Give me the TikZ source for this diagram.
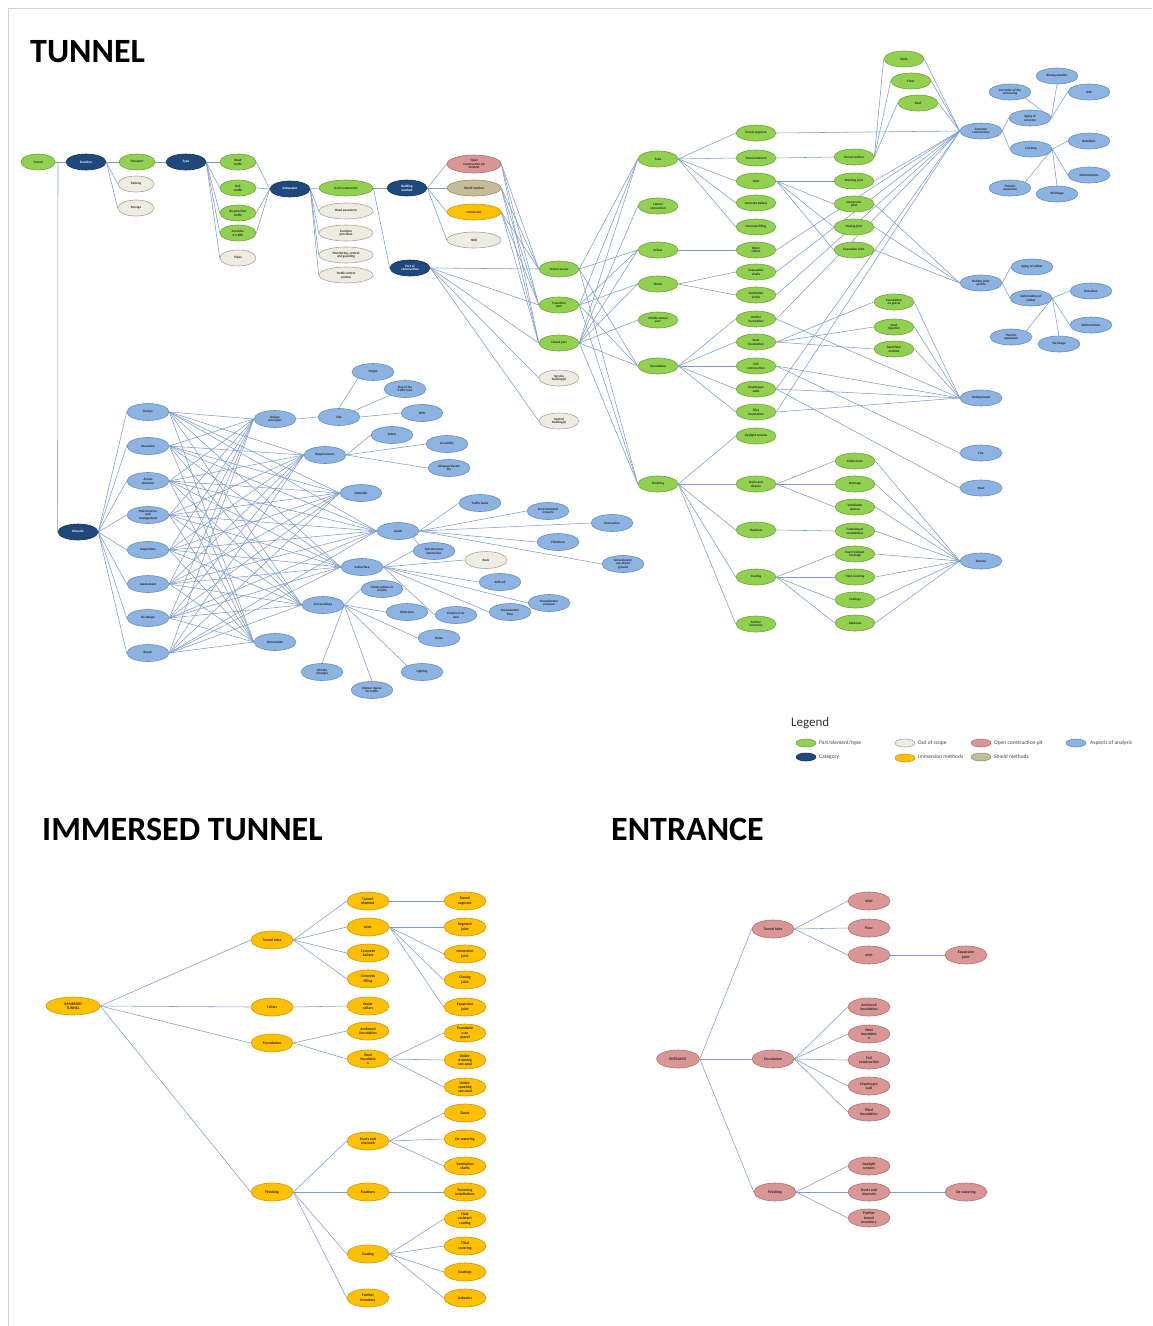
\documentclass[tikz,border=0pt]{standalone}
\usepackage{fontspec}
\setmainfont{Carlito}
\usetikzlibrary{shapes.geometric,backgrounds}
\definecolor{cgreen}{RGB}{146,208,80}
\definecolor{cgreenD}{RGB}{110,160,60}
\definecolor{cnavy}{RGB}{31,73,125}
\definecolor{cnavyD}{RGB}{20,50,95}
\definecolor{cgray}{RGB}{238,236,225}
\definecolor{cgrayD}{RGB}{165,165,155}
\definecolor{cpink}{RGB}{217,150,148}
\definecolor{cpinkD}{RGB}{175,112,110}
\definecolor{ckhaki}{RGB}{196,189,151}
\definecolor{ckhakiD}{RGB}{150,143,110}
\definecolor{corange}{RGB}{255,192,0}
\definecolor{corangeD}{RGB}{205,150,0}
\definecolor{cblue}{RGB}{141,179,226}
\definecolor{cblueD}{RGB}{100,140,195}
\definecolor{cedge}{RGB}{125,155,203}
\tikzset{
 nd/.style={ellipse, draw, line width=0.6pt, minimum width=40pt, minimum height=16pt, inner sep=0pt, align=center, font=\fontsize{3.3}{3.7}\selectfont\bfseries, text=black!85},
 gr/.style={nd, fill=cgreen, draw=cgreenD},
 nv/.style={nd, fill=cnavy, draw=cnavyD, text=white},
 os/.style={nd, fill=cgray, draw=cgrayD},
 pk/.style={nd, fill=cpink, draw=cpinkD},
 kh/.style={nd, fill=ckhaki, draw=ckhakiD},
 og/.style={nd, fill=corange, draw=corangeD},
 bl/.style={nd, fill=cblue, draw=cblueD},
 wide/.style={minimum width=54pt},
 big/.style={minimum width=42pt, minimum height=18pt, font=\fontsize{3.8}{4.2}\selectfont\bfseries},
 lgd/.style={minimum width=20pt, minimum height=8pt},
 lgt/.style={anchor=west, inner sep=0pt, font=\fontsize{5.5}{6}\selectfont, text=black!75},
 title/.style={anchor=base west, inner sep=0pt, font=\fontsize{34}{38}\selectfont\bfseries},
 edge/.style={draw=cedge, line width=0.55pt},
}
\begin{document}
\begin{tikzpicture}[x=1pt,y=-1pt]
\useasboundingbox (0,0) rectangle (1152,1326);
% titles
\node[title] (t1) at (30,62) {TUNNEL};
\node[title] (t2) at (42,840) {IMMERSED TUNNEL};
\node[title] (t3) at (611,840) {ENTRANCE};

% ---------- top chain
\node[gr, minimum width=34pt] (tun) at (38,162) {Tunnel};
\node[nv] (fun) at (86,162) {Function};
\node[gr, minimum width=36pt] (trn) at (137,162) {Transport};
\node[os, minimum width=36pt] (park) at (136,184) {Parking};
\node[os, minimum width=36pt] (stor) at (136,208) {Storage};
\node[nv] (typ) at (186,162) {Type};
\node[gr, minimum width=36pt] (road) at (238,162) {Road\\traffic};
\node[gr, minimum width=36pt] (rail) at (238,188) {Rail\\traffic};
\node[gr, minimum width=36pt] (bike) at (238,213) {Bicycle/foot\\traffic};
\node[gr, minimum width=36pt] (comb) at (238,233) {Combine\\d traffic};
\node[os, minimum width=36pt] (pipe) at (238,258) {Pipes};
\node[nv] (subs) at (290,189) {Subsystem};
\node[gr, wide] (civ) at (346,188) {Civil Construction};
\node[os, wide] (rpav) at (346,211) {Road pavement};
\node[os, wide] (fprov) at (346,233) {Function\\providers};
\node[os, wide] (mon) at (346,255) {Monitoring, control\\and guarding};
\node[os, wide] (tcc) at (346,275) {Traffic control\\centres};
\node[nv] (bm) at (407,188) {Building\\method};
\node[pk, wide, minimum height=18pt] (open) at (474,164) {Open\\construction pit\\method};
\node[kh, wide] (shld) at (474,188) {Shield method};
\node[og, wide] (imm) at (474,212) {Immersion};
\node[os, wide] (hdd) at (474,240) {HDD};
\node[nv] (poc) at (410,268) {Part of\\construction};
\node[gr] (acc) at (559,269) {Tunnel access};
\node[gr] (tra) at (559,305) {Transition\\part};
\node[gr] (clo) at (559,343) {Closed part};
\node[os] (serv) at (559,378) {Service\\building(s)};
\node[os] (ctrl) at (559,421) {Control\\building(s)};
% level
\node[gr] (tube) at (658,159) {Tube};
\node[gr] (lat) at (658,206) {Lateral\\connection};
\node[gr] (cel) at (658,250) {Cellars};
\node[gr] (sha) at (658,284) {Shafts};
\node[gr] (mid) at (658,320) {Middle tunnel\\part};
\node[gr] (fnd) at (658,366) {Foundation};
\node[gr] (fin) at (658,484) {Finishing};
% column 756
\node[gr] (tseg) at (756,133) {Tunnel segment};
\node[gr] (tel) at (756,158) {Tunnel element};
\node[gr] (jnt) at (756,181) {Joint};
\node[gr] (cbal) at (756,203) {Concrete ballast};
\node[gr] (cfil) at (756,227) {Concrete filling};
\node[gr] (wcel) at (756,250) {Water\\cellars};
\node[gr] (evac) at (756,272) {Evacuation\\shafts};
\node[gr] (vent) at (756,295) {Ventilation\\shafts};
\node[gr] (anch) at (756,319) {Anchor\\foundation};
\node[gr] (stf) at (756,342) {Steel\\foundation};
\node[gr] (foil) at (756,366) {Foil\\construction};
\node[gr] (diap) at (756,389) {Diaphragm\\walls};
\node[gr] (pile) at (756,412) {Piles\\foundation};
\node[gr] (dayl) at (756,436) {Daylight screens};
\node[gr] (duct) at (756,484) {Ducts and\\sleeves};
\node[gr] (fix) at (756,530) {Fixations};
\node[gr] (coat) at (756,577) {Coating};
\node[gr] (furt) at (756,624) {Further\\inventory};
% column 854
\node[gr] (tsec) at (854,157) {Tunnel section};
\node[gr] (wj) at (854,181) {Working joint};
\node[gr] (ij) at (854,204) {Immersion\\joint};
\node[gr] (cj) at (854,227) {Closing joint};
\node[gr] (ej) at (854,250) {Expansion joint};
\node[gr] (cab) at (855,461) {Cable ducts};
\node[gr] (drn) at (855,484) {Drainage};
\node[gr] (vsl) at (855,507) {Ventilation\\sleeves};
\node[gr] (fast) at (855,531) {Fastening of\\installations};
\node[gr] (heat) at (855,554) {Heat resistant\\coverage};
\node[gr] (tile) at (855,577) {Tiled covering};
\node[gr] (coats) at (855,600) {Coatings};
\node[gr] (asb) at (855,623) {Asbestos};
\node[gr] (walls) at (904,59) {Walls};
\node[gr] (floor) at (911,81) {Floor};
\node[gr] (roof) at (918,103) {Roof};
\node[gr] (grav) at (894,302) {Foundation\\on gravel};
\node[gr] (sinj) at (894,327) {Sand\\injection};
\node[gr] (sflow) at (894,349) {Sand-flow\\method};
% blue right
\node[bl, minimum width=42pt] (cc) at (981,131) {Concrete\\construction};
\node[bl, minimum width=42pt] (corr) at (1010,92) {Corrosion of the\\armouring};
\node[bl, minimum width=42pt] (bio) at (1057,76) {Biodegradation};
\node[bl, minimum width=42pt] (asr) at (1089,92) {ASR};
\node[bl, minimum width=42pt] (agc) at (1030,118) {Aging of\\concrete};
\node[bl, minimum width=42pt] (crk) at (1031,149) {Cracking};
\node[bl, minimum width=42pt] (rot1) at (1089,141) {Rotations};
\node[bl, minimum width=42pt] (def1) at (1089,175) {Deformations};
\node[bl, minimum width=42pt] (the1) at (1010,188) {Thermic\\expansion};
\node[bl, minimum width=42pt] (shr1) at (1057,194) {Shrinkage};
\node[bl, minimum width=42pt] (rjp) at (981,283) {Rubber joint\\profile};
\node[bl, minimum width=42pt] (agr) at (1032,267) {Aging of rubber};
\node[bl, minimum width=42pt] (dfr) at (1031,298) {Deformation of\\rubber};
\node[bl, minimum width=42pt] (rot2) at (1091,291) {Rotations};
\node[bl, minimum width=42pt] (def2) at (1091,325) {Deformations};
\node[bl, minimum width=42pt] (the2) at (1011,337) {Thermic\\expansion};
\node[bl, minimum width=42pt] (shr2) at (1059,344) {Shrinkage};
\node[bl, minimum width=42pt] (ug) at (981,398) {Underground};
\node[bl, minimum width=42pt] (fire) at (981,453) {Fire};
\node[bl, minimum width=42pt] (steel) at (981,488) {Steel};
\node[bl, minimum width=42pt] (div) at (981,561) {Diverse};

% ---------- lifecycle
\node[nv] (lc) at (78,532) {Lifecycle};
\begin{scope}[every node/.style={bl, minimum width=42pt, minimum height=17pt}]
\node (ph1) at (148,412) {Design};
\node (ph2) at (148,446) {Execution};
\node (ph3) at (148,481) {Actual\\situation};
\node (ph4) at (148,515) {Maintenance\\and\\management};
\node (ph5) at (148,550) {Inspections};
\node (ph6) at (148,584) {Assessment};
\node (ph7) at (148,618) {Re-design};
\node (ph8) at (148,653) {Repair};
\node (dp) at (275,419) {Design\\principles};
\node (info) at (275,642) {Information};
\node (size) at (339,417) {Size};
\node (req) at (325,455) {Requirements};
\node (mat) at (361,493) {Materials};
\node (loads) at (398,531) {Loads};
\node (subsf) at (362,567) {Subsurface};
\node (surr) at (323,605) {Surroundings};
\node (height) at (373,372) {Height};
\node (sotr) at (405,389) {Size of the\\traffic type};
\node (npr) at (422,413) {NPR};
\node (safety) at (392,435) {Safety};
\node (live) at (447,444) {Liveability};
\node (lifesp) at (449,468) {Lifespan/durabi\\lity};
\node (trl) at (480,503) {Traffic loads};
\node (env) at (548,511) {Environmental\\impacts};
\node (det) at (612,523) {Detonation};
\node (vib) at (558,542) {Vibrations};
\node (gwa) at (623,564) {Groundwater\\use above\\ground};
\node (ssi) at (434,551) {Soil-structure\\interaction};
\node[os, minimum width=42pt, minimum height=17pt] (rock) at (486,560) {Rock};
\node (soft) at (500,582) {Soft soil};
\node (gwp) at (549,603) {Groundwater\\pressure};
\node (gwf) at (510,612) {Groundwater\\flow};
\node (ero) at (456,615) {Erosion river\\bed};
\node (civn) at (382,589) {Constructions in\\vicinity};
\node (hind) at (407,612) {Hindrance};
\node (noise) at (439,638) {Noise};
\node (clim) at (322,672) {Climate\\(change)};
\node (detour) at (372,690) {Detour routes\\for traffic};
\node (light) at (422,672) {Lighting};
\end{scope}

% ---------- legend
\node[anchor=west, inner sep=0pt, font=\fontsize{13}{14}\selectfont, text=black!80] (lgh) at (791,723) {Legend};
\node[gr, lgd] (l1) at (806,743) {}; \node[lgt] (l1t) at (819,743) {Part/element/type};
\node[nv, lgd] (l2) at (806,757) {}; \node[lgt] (l2t) at (819,757) {Category};
\node[os, lgd] (l3) at (905,743) {}; \node[lgt] (l3t) at (918,743) {Out of scope};
\node[og, lgd] (l4) at (905,758) {}; \node[lgt] (l4t) at (918,757) {Immersion methods};
\node[pk, lgd] (l5) at (981,743) {}; \node[lgt] (l5t) at (994,743) {Open construction pit};
\node[kh, lgd] (l6) at (981,757) {}; \node[lgt] (l6t) at (994,757) {Shield methods};
\node[bl, lgd] (l7) at (1076,743) {}; \node[lgt] (l7t) at (1090,743) {Aspects of analysis};

% ---------- immersed tunnel
\begin{scope}[every node/.style={og, big}]
\node[minimum width=54pt] (it) at (73,1006) {IMMERSED\\TUNNEL};
\node (itt) at (272,940) {Tunnel tube};
\node (icel) at (272,1007) {Cellars};
\node (ifnd) at (272,1043) {Foundation};
\node (ifin) at (272,1192) {Finishing};
\node (iel) at (368,901) {Tunnel-\\element};
\node (ijn) at (368,927) {Joint};
\node (ibal) at (368,953) {Concrete\\ballast};
\node (ifil) at (368,979) {Concrete\\filling};
\node (iwc) at (368,1006) {Water\\cellars};
\node (ianc) at (368,1031) {Anchored\\foundation};
\node (istl) at (368,1059) {Steel\\foundatio\\n};
\node (iduc) at (368,1141) {Ducts and\\channels};
\node (ifix) at (368,1192) {Fixations};
\node (icoat) at (368,1254) {Coating};
\node (ifur) at (368,1298) {Further\\inventory};
\node (iseg) at (465,901) {Tunnel\\segment};
\node (isj) at (465,927) {Segment\\joint};
\node (iij) at (465,954) {Immersion\\joint};
\node (icj) at (465,980) {Closing\\joint};
\node (iej) at (465,1007) {Expansion\\joint};
\node (igr) at (465,1033) {Foundatio\\n on\\gravel};
\node (ist) at (465,1060) {Onder-\\stroming\\van zand};
\node (isp) at (465,1087) {Onder-\\spoeling\\van zand};
\node (iducts) at (465,1113) {Ducts};
\node (idew) at (465,1139) {De-watering};
\node (ivs) at (465,1166) {Ventilation\\shafts};
\node (ifast) at (465,1192) {Fastening\\installations};
\node (iheat) at (465,1219) {Heat\\resistant\\coating};
\node (itile) at (465,1246) {Tiled\\covering};
\node (icoats) at (465,1272) {Coatings};
\node (iasb) at (465,1298) {Asbestos};
\end{scope}

% ---------- entrance
\begin{scope}[every node/.style={pk, big}]
\node[minimum width=43pt] (en) at (678,1059) {ENTRANCE};
\node (ett) at (773,929) {Tunnel tube};
\node (efnd) at (773,1059) {Foundation};
\node (efin) at (775,1192) {Finishing};
\node (ewall) at (869,901) {Wall};
\node (efloor) at (869,928) {Floor};
\node (ejnt) at (869,955) {Joint};
\node (eexp) at (966,955) {Expansion\\joint};
\node (eanc) at (869,1007) {Anchored\\foundation};
\node (estl) at (869,1034) {Steel\\foundatio\\n};
\node (efoil) at (869,1060) {Foil\\construction};
\node (ediap) at (869,1086) {Diaphragm\\wall};
\node (epile) at (869,1112) {Piled\\foundation};
\node (eday) at (869,1166) {Daylight\\screens};
\node (educ) at (869,1192) {Ducts and\\channels};
\node (efur) at (869,1218) {Further\\tunnel\\inventory};
\node (edew) at (966,1192) {De-watering};
\end{scope}

% ---------- connectors
\begin{scope}[on background layer]
\draw[gray!35, line width=0.8pt] (8,1326) -- (8,8) -- (1152,8);
\draw[edge] (tun.east) -- (fun.west);
\coordinate (jn) at (58,162);
\draw[edge] (jn) -- (lc.west);
\foreach \a/\b in {fun/trn,fun/park,fun/stor,trn/typ,typ/road,typ/rail,typ/bike,typ/comb,typ/pipe,
 road/subs,rail/subs,bike/subs,comb/subs,subs/civ,subs/rpav,subs/fprov,subs/mon,subs/tcc,civ/bm,civ/poc,
 bm/open,bm/shld,bm/imm,bm/hdd,open/acc,open/tra,open/clo,shld/acc,shld/tra,shld/clo,imm/acc,imm/tra,imm/clo,
 poc/acc,poc/tra,poc/clo,poc/serv,poc/ctrl,
 acc/tube,acc/cel,acc/fnd,acc/fin,tra/tube,tra/cel,tra/sha,tra/fnd,tra/fin,
 clo/tube,clo/lat,clo/cel,clo/sha,clo/mid,clo/fnd,clo/fin,
 tube/tseg,tube/tel,tube/jnt,tube/cbal,tube/cfil,cel/wcel,sha/evac,sha/vent,
 fnd/anch,fnd/stf,fnd/foil,fnd/diap,fnd/pile,fin/dayl,fin/duct,fin/fix,fin/coat,fin/furt,
 tel/tsec,jnt/wj,jnt/ij,jnt/cj,jnt/ej,tsec/walls,tsec/floor,tsec/roof,
 walls/cc,floor/cc,roof/cc,tseg/cc,wj/cc,wcel/cc,evac/cc,vent/cc,anch/cc,diap/cc,pile/cc,
 ij/rjp,cj/rjp,ej/rjp,
 stf/grav,stf/sinj,stf/sflow,grav/ug,sinj/ug,sflow/ug,anch/ug,foil/ug,diap/ug,pile/ug,foil/fire,diap/steel,
 duct/cab,duct/drn,duct/vsl,fix/fast,coat/heat,coat/tile,coat/coats,coat/asb,
 cab/div,drn/div,vsl/div,fast/div,heat/div,tile/div,coats/div,asb/div,
 cc/agc,cc/crk,crk/rot1,crk/def1,rjp/agr,rjp/dfr,dfr/rot2,dfr/def2,agc/asr}
 {\draw[edge] (\a.east) -- (\b.west);}
\draw[edge] (agc.east) -- (corr.south east);
\draw[edge] (agc.east) -- (bio.south);
\draw[edge] (crk.east) -- (shr1.north);
\draw[edge] (crk.east) -- (the1.north east);
\draw[edge] (dfr.east) -- (shr2.north);
\draw[edge] (dfr.east) -- (the2.north east);
% lifecycle
\foreach \p in {ph1,ph2,ph3,ph4,ph5,ph6,ph7,ph8}{
 \draw[edge] (lc.east) -- (\p.west);
 \foreach \q in {dp,req,mat,loads,subsf,surr,info}
  {\draw[edge] (\p.east) -- (\q.west);}
}
\draw[edge] (dp.east) -- (size.west);
\draw[edge] (size.north) -- (height.south west);
\draw[edge] (size.north east) -- (sotr.south west);
\draw[edge] (size.east) -- (npr.west);
\foreach \b in {safety,live,lifesp} {\draw[edge] (req.east) -- (\b.west);}
\foreach \b in {trl,env,det,vib,gwa} {\draw[edge] (loads.east) -- (\b.west);}
\draw[edge] (loads.south east) -- (ssi.north west);
\foreach \b in {ssi,rock,soft,gwp,gwf,ero} {\draw[edge] (subsf.east) -- (\b.west);}
\foreach \b in {civn,hind,noise} {\draw[edge] (surr.east) -- (\b.west);}
\draw[edge] (surr.east) -- (light.north west);
\draw[edge] (surr.east) -- (detour.north);
\draw[edge] (surr.east) -- (clim.north);
% immersed
\foreach \a/\b in {it/itt,it/icel,it/ifnd,it/ifin,itt/iel,itt/ijn,itt/ibal,itt/ifil,iel/iseg,
 ijn/isj,ijn/iij,ijn/icj,ijn/iej,icel/iwc,ifnd/ianc,ifnd/istl,istl/igr,istl/ist,istl/isp,
 ifin/iduc,ifin/ifix,ifin/icoat,ifin/ifur,iduc/iducts,iduc/idew,iduc/ivs,ifix/ifast,
 icoat/iheat,icoat/itile,icoat/icoats,icoat/iasb}
 {\draw[edge] (\a.east) -- (\b.west);}
% entrance
\foreach \a/\b in {en/ett,en/efnd,en/efin,ett/ewall,ett/efloor,ett/ejnt,ejnt/eexp,
 efnd/eanc,efnd/estl,efnd/efoil,efnd/ediap,efnd/epile,efin/eday,efin/educ,efin/efur,educ/edew}
 {\draw[edge] (\a.east) -- (\b.west);}
\end{scope}
\end{tikzpicture}
\end{document}
